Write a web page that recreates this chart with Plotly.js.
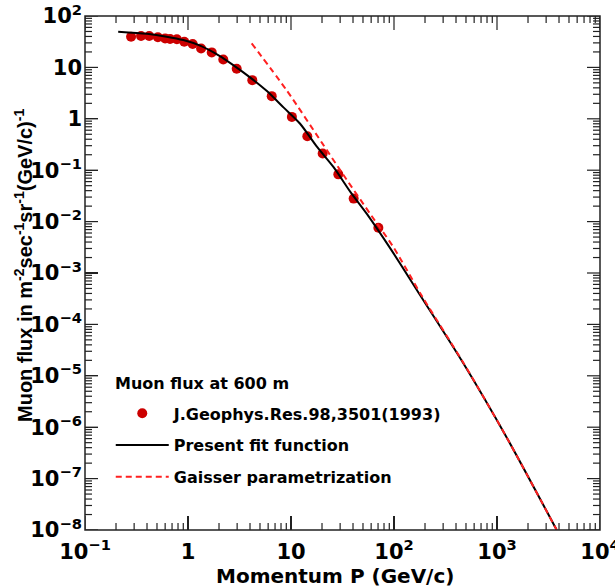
<!DOCTYPE html>
<html>
<head>
<meta charset="utf-8">
<script src="https://cdn.plot.ly/plotly-3.0.1.min.js"></script>
<style>
html,body{margin:0;padding:0;background:#fff;}
#chart{width:615px;height:587px;}
</style>
</head>
<body>
<div id="chart"></div>
<script>
// Measured data (J.Geophys.Res.98,3501(1993))
const dataMomentum = [0.28,0.35,0.42,0.51,0.60,0.67,0.78,0.92,1.11,1.34,1.70,2.20,2.97,4.21,6.5,10.2,14.4,20.3,28.8,40.6,70.5];
const dataFlux     = [39.5,40.7,40.7,38.5,36.7,35.7,35.2,31.6,28.5,23.4,19.6,14.3,9.4,5.65,2.76,1.09,0.458,0.211,0.083,0.028,0.0076];

// Present fit function
const fitMomentum = [0.21,0.4,0.62,0.9,1.31,2.0,2.75,4.0,5.8,8.5,12.2,18,25.8,38,54.3,94.8,186,471,1242,3800];
const fitFlux     = [49.4,45,39.6,34,26.5,17,11.1,6.4,3.5,1.65,0.81,0.28,0.116,0.037,0.01426,0.00275,3.3e-4,1.75e-5,6.3e-7,1.0e-8];

// Gaisser parametrization
const gaisserMomentum = [4.15,9.06,20,32,60,98.5,186,471,1242,3800];
const gaisserFlux     = [29.3,3.6,0.34,0.083,0.0133,3.2e-3,3.6e-4,1.8e-5,6.3e-7,1.0e-8];

// Tick labels
const xTickVals = [0.1,1,10,100,1000,10000];
const xTickText = ['10<sup>\u22121</sup>','1','10','10<sup>2</sup>','10<sup>3</sup>','10<sup>4</sup>'];
const yTickVals = [1e-8,1e-7,1e-6,1e-5,1e-4,1e-3,1e-2,1e-1,1,10,100];
const yTickText = ['10<sup>\u22128</sup>','10<sup>\u22127</sup>','10<sup>\u22126</sup>','10<sup>\u22125</sup>','10<sup>\u22124</sup>','10<sup>\u22123</sup>','10<sup>\u22122</sup>','10<sup>\u22121</sup>','1','10','10<sup>2</sup>'];

// Minor tick positions (2..9 in each decade)
function minorTicks(lo, hi) {
  const out = [];
  for (let e = lo; e < hi; e++) for (let d = 2; d <= 9; d++) out.push(d * Math.pow(10, e));
  return out;
}
const xMinor = minorTicks(-1, 4);
const yMinor = minorTicks(-8, 2);

const FONT = 'DejaVu Sans, Liberation Sans, Arial, sans-serif';
const NARROW = 'Liberation Sans, Arial, Helvetica, sans-serif';
const AX = '#222';

// plot-area size in px (for tick lengths in paper units)
const W = 615, H = 587, ML = 85, MR = 15, MT = 16, MB = 57;
const PW = W - ML - MR, PH = H - MT - MB;

const traces = [
  {
    x: dataMomentum, y: dataFlux, type: 'scatter', mode: 'markers',
    name: 'J.Geophys.Res.98,3501(1993)', legendgroup: 'a',
    marker: {color: '#cc0000', size: 10, line: {width: 0}}
  },
  {
    x: fitMomentum, y: fitFlux, type: 'scatter', mode: 'lines',
    name: 'Present fit function', legendgroup: 'b',
    line: {color: '#000000', width: 2, shape: 'spline', smoothing: 0.8}
  },
  {
    x: gaisserMomentum, y: gaisserFlux, type: 'scatter', mode: 'lines',
    name: 'Gaisser parametrization', legendgroup: 'c',
    line: {color: '#ff2020', width: 2, dash: '6px,4px', shape: 'spline', smoothing: 0.8}
  }
];

// Tick marks on all four sides, placed through the axes' own scales (xref 'x' / yref 'y')
const shapes = [];
function xTick(v, len) {
  const f = len / PH;
  shapes.push({type: 'line', xref: 'x', yref: 'paper', x0: v, x1: v, y0: 0, y1: f, line: {color: AX, width: 1.2}, layer: 'above'});
  shapes.push({type: 'line', xref: 'x', yref: 'paper', x0: v, x1: v, y0: 1, y1: 1 - f, line: {color: AX, width: 1.2}, layer: 'above'});
}
function yTick(v, len) {
  const f = len / PW;
  shapes.push({type: 'line', xref: 'paper', yref: 'y', x0: 0, x1: f, y0: v, y1: v, line: {color: AX, width: 1.2}, layer: 'above'});
  shapes.push({type: 'line', xref: 'paper', yref: 'y', x0: 1, x1: 1 - f, y0: v, y1: v, line: {color: AX, width: 1.2}, layer: 'above'});
}
xTickVals.forEach(v => xTick(v, 14));
xMinor.forEach(v => xTick(v, 7));
yTickVals.forEach(v => yTick(v, 13));
yMinor.forEach(v => yTick(v, 7));
// frame
shapes.push({type: 'rect', xref: 'paper', yref: 'paper', x0: 0, x1: 1, y0: 0, y1: 1,
  line: {color: AX, width: 1.5}, fillcolor: 'rgba(0,0,0,0)', layer: 'above'});

const layout = {
  width: W, height: H,
  margin: {l: ML, r: MR, t: MT, b: MB, pad: 0},
  paper_bgcolor: '#ffffff', plot_bgcolor: '#ffffff',
  font: {family: FONT, color: '#000', size: 16},
  showlegend: true,
  legend: {
    x: 0.05, y: 0.26, xanchor: 'left', yanchor: 'top',
    bgcolor: 'rgba(0,0,0,0)', borderwidth: 0,
    font: {family: FONT, size: 16, weight: 'bold', color: '#000'},
    traceorder: 'grouped', tracegroupgap: 8, itemwidth: 53
  },
  xaxis: {
    type: 'log', range: [-1, 4],
    showgrid: false, zeroline: false, showline: false, mirror: false,
    ticks: 'inside', ticklen: 14, tickwidth: 1.2, tickcolor: AX,
    tickmode: 'array', tickvals: xTickVals, ticktext: xTickText,
    tickfont: {family: FONT, size: 21, weight: 'bold', color: '#000'},
    ticklabelstandoff: 7, ticklabeloverflow: 'allow'
  },
  yaxis: {
    type: 'log', range: [-8, 2],
    showgrid: false, zeroline: false, showline: false, mirror: false,
    ticks: 'inside', ticklen: 13, tickwidth: 1.2, tickcolor: AX,
    tickmode: 'array', tickvals: yTickVals, ticktext: yTickText,
    tickfont: {family: FONT, size: 21, weight: 'bold', color: '#000'},
    ticklabelstandoff: 2, ticklabeloverflow: 'allow'
  },
  shapes: shapes,
  annotations: [
    {
      text: 'Momentum P (GeV/c)', xref: 'paper', yref: 'paper',
      x: (335 - ML) / PW, y: (530 - 576) / PH, xanchor: 'center', yanchor: 'middle',
      showarrow: false, font: {family: FONT, size: 20, weight: 'bold', color: '#000'}
    },
    {
      text: 'Muon flux in m<sup>-2</sup>sec<sup>-1</sup>sr<sup>-1</sup>(GeV/c)<sup>-1</sup>',
      xref: 'paper', yref: 'paper', textangle: -90,
      x: (23 - ML) / PW, y: (530 - 266) / PH, xanchor: 'center', yanchor: 'middle',
      showarrow: false, font: {family: NARROW, size: 20, weight: 'bold', color: '#000'}
    },
    {
      text: 'Muon flux at 600 m', xref: 'paper', yref: 'paper',
      x: (113 - ML) / PW, y: (530 - 383) / PH, xanchor: 'left', yanchor: 'middle',
      showarrow: false, font: {family: FONT, size: 16, weight: 'bold', color: '#000'}
    }
  ]
};

Plotly.newPlot('chart', traces, layout, {displayModeBar: false, staticPlot: true});
</script>
</body>
</html>
